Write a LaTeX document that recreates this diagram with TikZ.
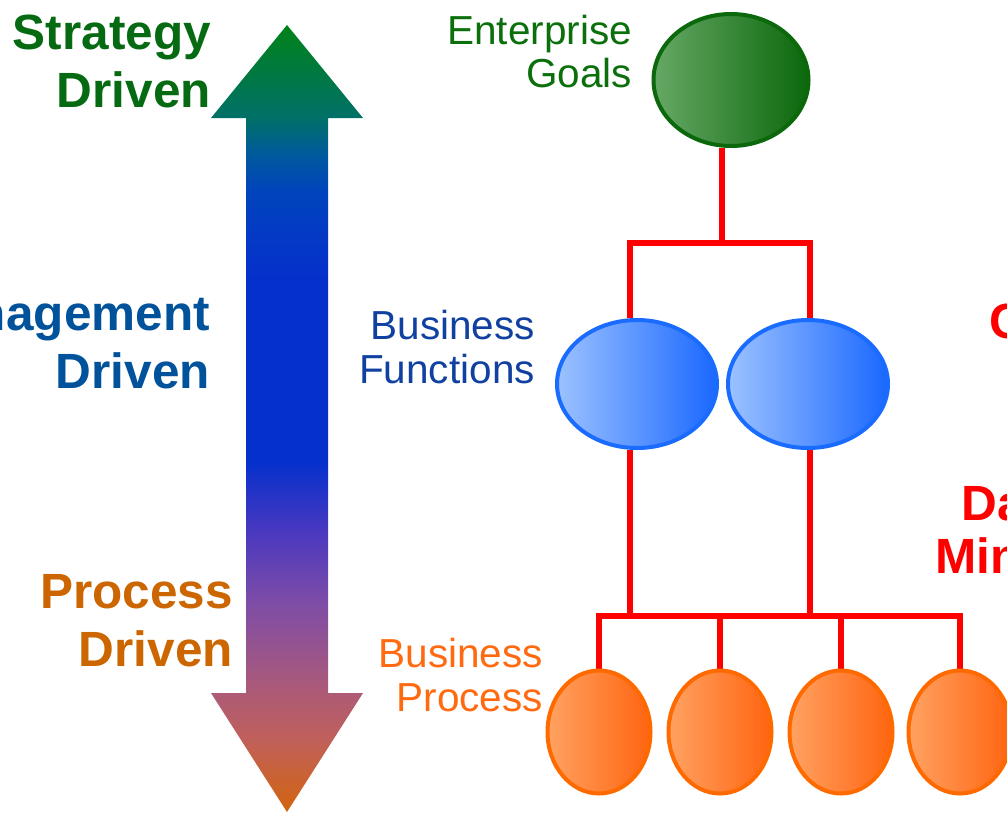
\documentclass[tikz,border=0pt]{standalone}
\usepackage{fontspec}
\setmainfont{Liberation Sans}
\usetikzlibrary{shapes.geometric}
\definecolor{aOr}{HTML}{D2640F}
\definecolor{aRo}{HTML}{C0605A}
\definecolor{aRp}{HTML}{AC5A78}
\definecolor{aPu}{HTML}{7C4CA8}
\definecolor{aVi}{HTML}{4838C0}
\definecolor{aBl}{HTML}{0630CC}
\definecolor{aB2}{HTML}{0044BC}
\definecolor{aB3}{HTML}{005A9C}
\definecolor{aTe}{HTML}{007068}
\definecolor{aGr}{HTML}{008218}
\pgfdeclareverticalshading{bigarrow}{100bp}{color(0bp)=(aOr); color(25bp)=(aOr); color(29.6bp)=(aRo); color(32.8bp)=(aRp); color(38.5bp)=(aPu); color(42.9bp)=(aVi); color(47.2bp)=(aBl); color(59bp)=(aBl); color(64.5bp)=(aB2); color(66.8bp)=(aB3); color(69.1bp)=(aTe); color(75bp)=(aGr); color(100bp)=(aGr)}
\definecolor{sgreen}{HTML}{066A12}
\definecolor{mblue}{HTML}{00529B}
\definecolor{porange}{HTML}{CC6600}
\definecolor{egreen}{HTML}{0B700B}
\definecolor{fblue}{HTML}{1040A0}
\definecolor{borange}{HTML}{FF6A10}
\definecolor{gL}{HTML}{66A866}
\definecolor{gD}{HTML}{0B680B}
\definecolor{fL}{HTML}{9CC2FF}
\definecolor{fD}{HTML}{1A68FF}
\definecolor{fB}{HTML}{1A6CFF}
\definecolor{pL}{HTML}{FFA262}
\definecolor{pD}{HTML}{FF6410}
\definecolor{pB}{HTML}{FF6A00}
\pgfdeclarelayer{bg}
\pgfsetlayers{bg,main}
\begin{document}
\begin{tikzpicture}[x=1pt,y=-1pt,
  title/.style={font=\fontsize{49.5}{58}\selectfont\bfseries, inner sep=0pt},
  lbl/.style={font=\fontsize{40.5}{44}\selectfont, inner sep=0pt},
  link/.style={draw=red, line width=5.5pt},
  goalnode/.style={ellipse, draw=gD, line width=4pt, left color=gL, right color=gD, minimum width=155pt, minimum height=132pt, inner sep=0pt},
  funcnode/.style={ellipse, draw=fB, line width=4pt, left color=fL, right color=fD, minimum width=160pt, minimum height=128pt, inner sep=0pt},
  procnode/.style={ellipse, draw=pB, line width=4pt, left color=pL, right color=pD, minimum width=103pt, minimum height=123pt, inner sep=0pt}]
\useasboundingbox (0,0) rectangle (1007,812);
\clip (0,0) rectangle (1007,812);
% big double arrow
\path[shading=bigarrow] (287,25) -- (363,118) -- (328,118) -- (328,693) -- (363,693) -- (287,812) -- (211,693) -- (246,693) -- (246,118) -- (211,118) -- cycle;
% left titles
\node[title, text=sgreen, anchor=base east] (s1) at (211,49) {Strategy};
\node[title, text=sgreen, anchor=base east] (s2) at (211,107) {Driven};
\node[title, text=mblue, anchor=base east] (m1) at (210,330) {Management};
\node[title, text=mblue, anchor=base east] (m2) at (210,388) {Driven};
\node[title, text=porange, anchor=base east] (pt1) at (233,608) {Process};
\node[title, text=porange, anchor=base east] (pt2) at (233,666) {Driven};
% labels
\node[lbl, text=egreen, anchor=base east] (e1) at (632,44) {Enterprise};
\node[lbl, text=egreen, anchor=base east] (e2) at (632,87) {Goals};
\node[lbl, text=fblue, anchor=base east] (bf1) at (535,339) {Business};
\node[lbl, text=fblue, anchor=base east] (bf2) at (535,383) {Functions};
\node[lbl, text=borange, anchor=base east] (bp1) at (543,667) {Business};
\node[lbl, text=borange, anchor=base east] (bp2) at (543,711) {Process};
% right red titles
\node[title, text=red, anchor=base west] (rc) at (989,338) {C};
\node[title, text=red, anchor=base] (dm1) at (1015,520) {Data};
\node[title, text=red, anchor=base] (dm2) at (1015,573) {Mining};
% ellipses
\node[goalnode] (g) at (731,80) {};
\node[funcnode] (f1) at (637,384) {};
\node[funcnode] (f2) at (808,384) {};
\node[procnode] (p1) at (599,732) {};
\node[procnode] (p2) at (720,732) {};
\node[procnode] (p3) at (841,732) {};
\node[procnode] (p4) at (960,732) {};
% connectors
\coordinate (gx) at (722,243);
\coordinate (b1) at (630,243);
\coordinate (b2) at (810,243);
\coordinate (c1) at (630,616);
\coordinate (c2) at (810,616);
\begin{pgfonlayer}{bg}
\draw[link] (g.south -| gx) -- (gx);
\draw[link] (f1.north -| b1) -- (b1) -- (b2) -- (f2.north -| b2);
\draw[link] (f1.south -| c1) -- (c1);
\draw[link] (f2.south -| c2) -- (c2);
\draw[link] (p1.north) -- (p1.north |- c1) -- (p4.north |- c1) -- (p4.north);
\draw[link] (p2.north) -- (p2.north |- c1);
\draw[link] (p3.north) -- (p3.north |- c1);
\end{pgfonlayer}
\end{tikzpicture}
\end{document}
